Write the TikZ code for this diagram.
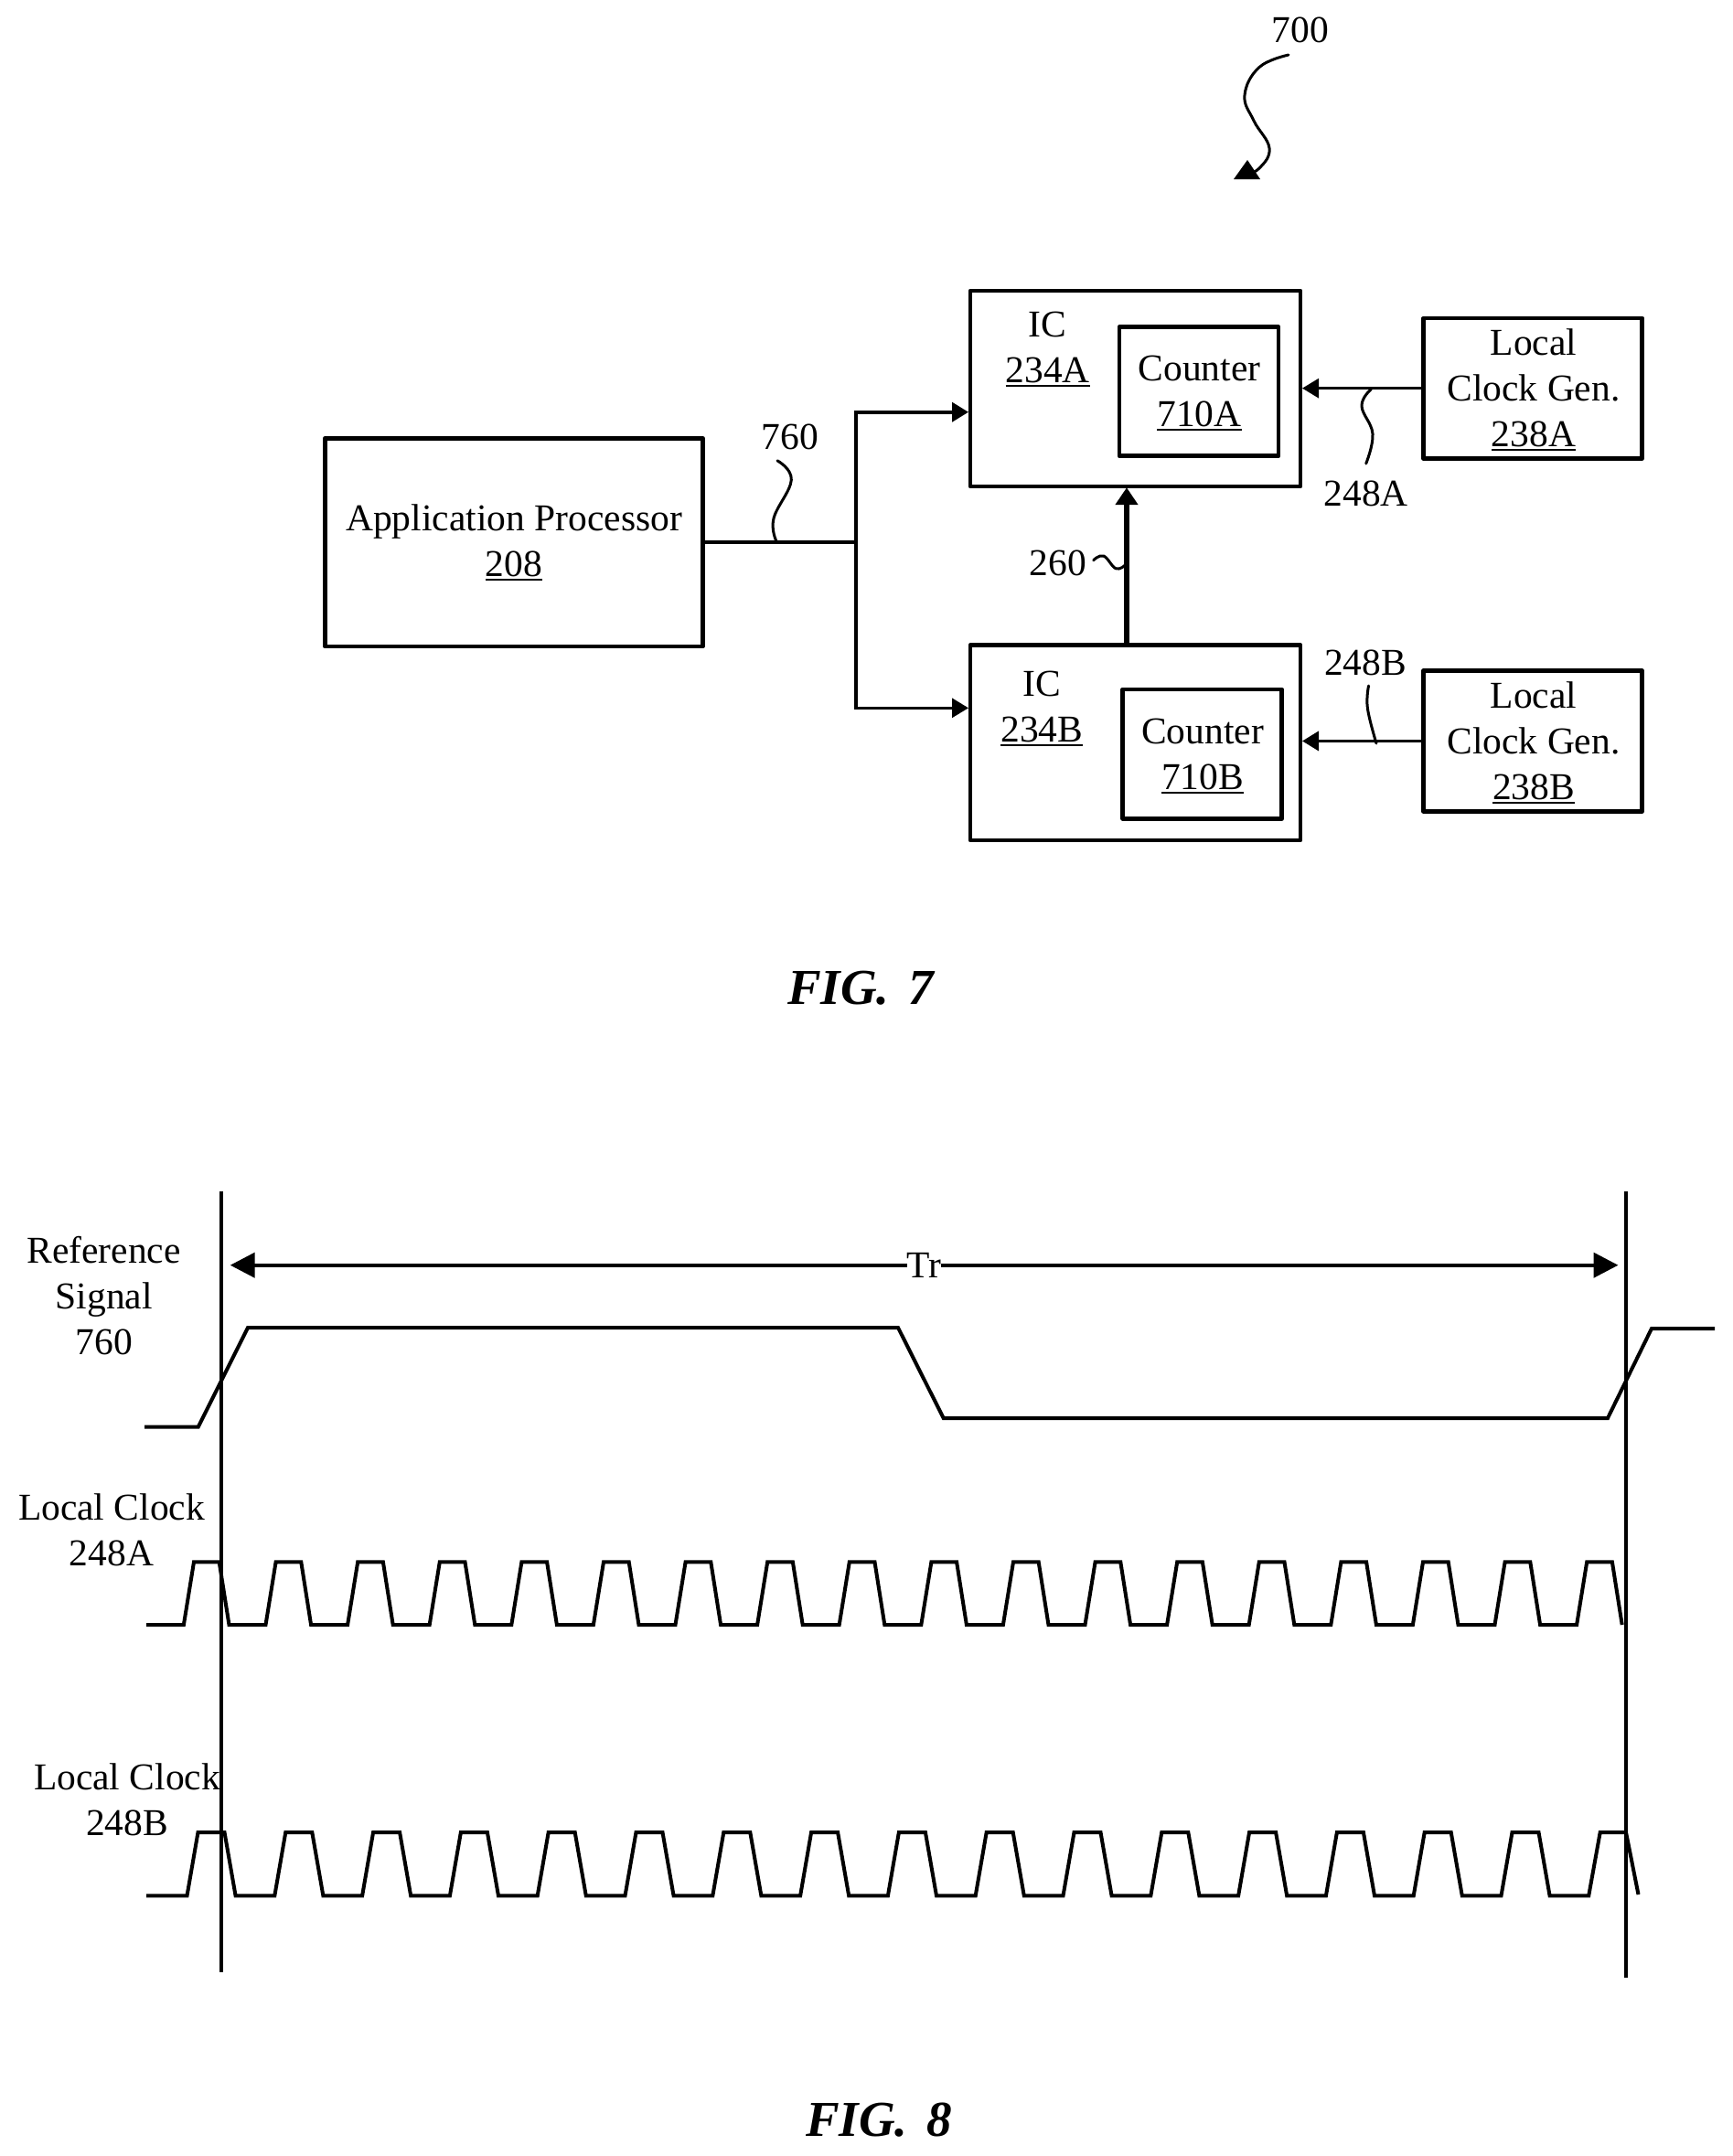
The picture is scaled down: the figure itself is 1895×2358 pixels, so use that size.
\documentclass[tikz,border=0pt]{standalone}
\usepackage{fontspec}
\usetikzlibrary{arrows.meta}
\setmainfont{Liberation Serif}
\newcommand{\ulx}[1]{\setbox0=\hbox{#1}\leavevmode\rlap{\vrule height -1.3pt depth 2.3pt width \wd0}\box0}
\newcommand{\bx}[6][box]{\node[#1,minimum width={(#5-#3)*0.5pt},minimum height={(#6-#4)*0.5pt}] (#2) at ({(#3+#5)/2},{(#4+#6)/2}) {};}
\tikzset{
 box/.style={draw,line width=2.3pt,inner sep=0pt,outer sep=0pt,line join=round},
 lab/.style={inner sep=0pt,outer sep=0pt,anchor=base,align=center,font=\fontsize{20.75}{25}\selectfont},
 figlab/.style={inner sep=0pt,outer sep=0pt,anchor=base,font=\fontsize{27.5}{34}\selectfont\bfseries\itshape},
 wire/.style={line width=1.85pt},
 thinwire/.style={line width=1.5pt},
 thickwire/.style={line width=3pt},
 tipin/.style={-{Triangle[length=9pt,width=10.5pt]},shorten >=1pt},
 tipthick/.style={-{Triangle[length=9.5pt,width=12pt]},shorten >=0.6pt},
 tipspan/.style={{Triangle[length=13.5pt,width=13.5pt]}-{Triangle[length=13.5pt,width=13.5pt]}},
 marker/.style={line width=2.1pt},
 sig/.style={line width=2pt,line join=miter},
 squig/.style={line width=1.5pt,line cap=round}}
\begin{document}
\begin{tikzpicture}[x=0.5pt,y=-0.5pt]
\useasboundingbox (0,0) rectangle (1895,2358);
\fill[white] (0,0) rectangle (1895,2358);
% --- FIG. 7 ---
\node[lab] (ref700) at (1422,46) {700};
\draw[squig] plot[smooth,tension=0.7] coordinates {(1409,60) (1377,73.5) (1361,104) (1371,132) (1388,162) (1377,184) (1360,192)};
\fill (1349,196) -- (1364,175) -- (1378,196) -- cycle;
\bx{ap}{355.3}{479.3}{768.4}{707}
\node[lab] (aptext) at (562,630.7) {Application Processor\\\ulx{208}};
\bx{ica}{1061}{318}{1422}{532}
\node[lab] (icatext) at (1145.7,418) {IC\\\ulx{234A}};
\bx{cnta}{1224}{357.7}{1398}{498.7}
\node[lab] (cntatext) at (1311.5,466.7) {Counter\\\ulx{710A}};
\bx{icb}{1061}{705.7}{1422}{919}
\node[lab] (icbtext) at (1139.3,811) {IC\\\ulx{234B}};
\bx{cntb}{1227.7}{754}{1401.7}{895.3}
\node[lab] (cntbtext) at (1315,863.3) {Counter\\\ulx{710B}};
\bx{lga}{1556.5}{347.8}{1795.7}{501.5}
\node[lab] (lgatext) at (1677,488) {Local\\Clock Gen.\\\ulx{238A}};
\bx{lgb}{1556.5}{733.6}{1795.7}{887.3}
\node[lab] (lgbtext) at (1677,874.5) {Local\\Clock Gen.\\\ulx{238B}};
\coordinate (jm) at (936,592.7);
\coordinate (jt) at (936,450.7);
\coordinate (jb) at (936,774.3);
\coordinate (tw) at (1232,620);
\draw[wire] (ap.east |- jm) -- (jm);
\draw[wire,line cap=rect] (jt) -- (jb);
\draw[wire,tipin] (jt) -- (ica.west |- jt);
\draw[thinwire,tipin] (jb) -- (icb.west |- jb);
\draw[thinwire,tipin] (lga.west) -- (ica.east |- lga.west);
\draw[wire,tipin] (lgb.west) -- (icb.east |- lgb.west);
\draw[thickwire,tipthick] (icb.north -| tw) -- (ica.south -| tw);
\node[lab] (ref760) at (864,491.3) {760};
\draw[squig] plot[smooth,tension=0.7] coordinates {(850,503.8) (865.3,524.8) (846,567) (849,592)};
\node[lab] (ref260) at (1156.7,629) {260};
\draw[squig] plot[smooth,tension=0.7] coordinates {(1195.7,612.7) (1206.7,608) (1220,621.7) (1230,618.3)};
\node[lab] (ref248a) at (1493.7,553) {248A};
\draw[squig] plot[smooth,tension=0.7] coordinates {(1499.4,425.6) (1489,444) (1501,474.6) (1493.7,507)};
\node[lab] (ref248b) at (1493,738) {248B};
\draw[squig] plot[smooth,tension=0.7] coordinates {(1496.6,750) (1495.4,774.6) (1505,813)};
\node[figlab] (fig7) at (941,1098.5) {FIG.\hspace{0.38em}7};
% --- FIG. 8 ---
\coordinate (lt) at (242,1303);
\coordinate (lb) at (242,2157);
\coordinate (rt) at (1778,1303);
\coordinate (rb) at (1778,2163);
\draw[marker] (lt) -- (lb);
\draw[marker] (rt) -- (rb);
\coordinate (sl) at (251.7,1383.7);
\coordinate (sr) at (1769.5,1383.7);
\draw[marker,tipspan] (sl) -- node[lab,anchor=center,fill=white,pos=0.5] (tr) {Tr} (sr);
\draw[sig] (158,1560.7) -- (216.7,1560.7) -- (271,1452) -- (982,1452) -- (1031.7,1551) -- (1758,1551) -- (1806,1453) -- (1875,1453);
\draw[sig] (160,1777) \foreach \i in {0,...,17} { -- ({200.9+\i*89.6},1777) -- ({212+\i*89.6},1708.4) -- ({239.7+\i*89.6},1708.4) -- ({250.5+\i*89.6},1777) };
\draw[sig] (160,2073.4) \foreach \i in {0,...,15} { -- ({204.5+\i*95.8},2073.4) -- ({216.5+\i*95.8},2004) -- ({245.5+\i*95.8},2004) -- ({257.6+\i*95.8},2073.4) } -- (1737.2,2073.4) -- (1749.7,2004) -- (1778,2004) -- (1791.5,2072);
\node[lab] (reflab) at (113.7,1481) {Reference\\Signal\\760};
\node[lab] (cka) at (122,1712.5) {Local Clock\\248A};
\node[lab] (ckb) at (139,2007.7) {Local Clock\\248B};
\node[figlab] (fig8) at (961,2336.7) {FIG.\hspace{0.38em}8};
\end{tikzpicture}
\end{document}
